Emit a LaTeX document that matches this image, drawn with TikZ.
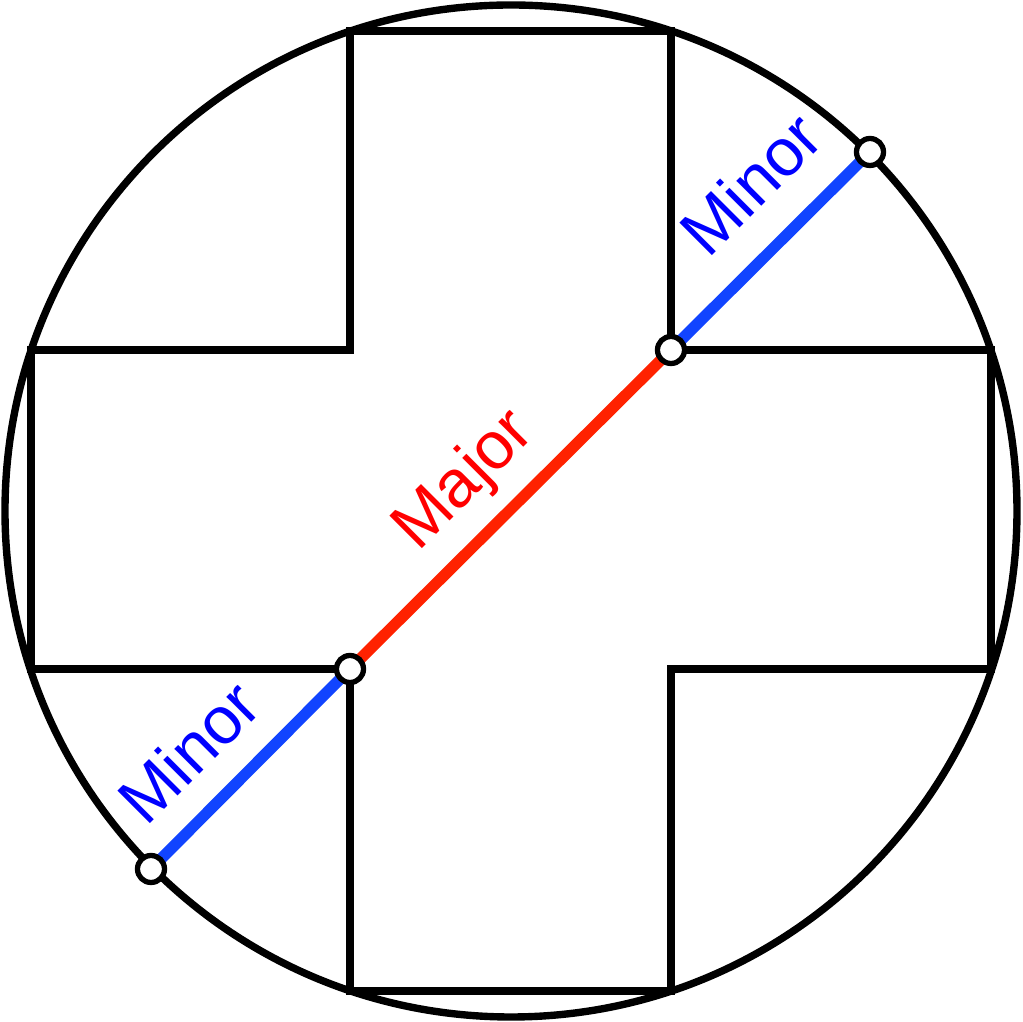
\documentclass[tikz,border=0pt]{standalone}
\usepackage{fontspec}
\setmainfont{Liberation Sans}
\usepackage{tikz}

\definecolor{majorline}{RGB}{255,34,0}
\definecolor{minorline}{RGB}{17,68,255}

\begin{document}
\begin{tikzpicture}[x=0.01cm,y=-0.01cm,
  outline/.style={line width=2.1pt,line join=miter},
  diag/.style={line width=3.2pt},
  dot/.style={circle,draw=black,fill=white,line width=1.5pt,minimum size=0.27cm,inner sep=0pt},
  lab/.style={rotate=45,anchor=base west,inner sep=0pt,font=\fontsize{19}{22}\selectfont}]
\useasboundingbox (0,0) rectangle (1023,1022);
\draw[outline] (511,511) circle (506);
\draw[outline] (350,31)--(671,31)--(671,350)--(991,350)--(991,669)--(671,669)
  --(671,991)--(350,991)--(350,669)--(31,669)--(31,350)--(350,350)--cycle;
\coordinate (lowrim) at (151,869);
\coordinate (lowcorner) at (350,669);
\coordinate (upcorner) at (671,350);
\coordinate (uprim) at (870,152);
\draw[diag,minorline] (lowrim)--(lowcorner);
\draw[diag,majorline] (lowcorner)--(upcorner);
\draw[diag,minorline] (upcorner)--(uprim);
\node[dot] (a) at (lowrim) {};
\node[dot] (b) at (lowcorner) {};
\node[dot] (c) at (upcorner) {};
\node[dot] (d) at (uprim) {};
\node[lab,text=red] (majortxt) at (418,553) {Major};
\node[lab,text=blue] (lowtxt) at (146,828) {Minor};
\node[lab,text=blue] (uptxt) at (708,260) {Minor};
\end{tikzpicture}
\end{document}
